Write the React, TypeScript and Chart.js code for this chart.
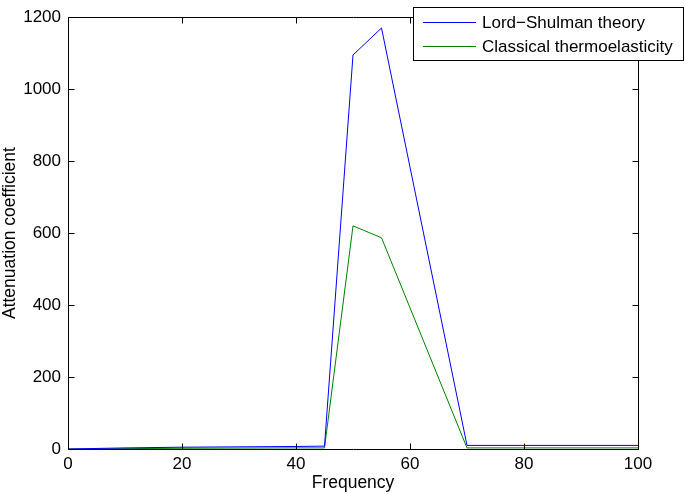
import React, { useEffect, useRef } from "react";
import { Chart, registerables } from "chart.js";

Chart.register(...registerables);

const frequency = [0, 10, 20, 30, 40, 45, 50, 55, 70, 80, 90, 100];
const lordShulman = [0, 3, 5, 6, 7, 8, 1095, 1170, 10, 10, 10, 10];
const classical = [0, 1, 2, 2.5, 3, 3, 620, 587, 3, 3, 3, 3];
const seriesNames = ["Lord\u2212Shulman theory", "Classical thermoelasticity"];
const seriesColors = ["#0000ff", "#008000"];
const xTicks = [0, 20, 40, 60, 80, 100];
const yTicks = [0, 200, 400, 600, 800, 1000, 1200];

const FONT = "Liberation Sans, Arial, Helvetica, sans-serif";

const frameAndLegend = {
  id: "frameAndLegend",
  afterDatasetsDraw(chart: any) {
    const { ctx, chartArea: a, scales } = chart;
    ctx.save();
    ctx.strokeStyle = "#000";
    ctx.lineWidth = 1;
    const L = Math.round(a.left) + 0.5;
    const R = Math.round(a.right) + 0.5;
    const T = Math.round(a.top) + 0.5;
    const B = Math.round(a.bottom) + 0.5;
    ctx.beginPath();
    ctx.rect(L, T, R - L, B - T);
    ctx.stroke();
    const tl = 6;
    ctx.beginPath();
    for (const v of xTicks) {
      const x = Math.round(scales.x.getPixelForValue(v)) + 0.5;
      ctx.moveTo(x, B);
      ctx.lineTo(x, B - tl);
      ctx.moveTo(x, T);
      ctx.lineTo(x, T + tl);
    }
    for (const v of yTicks) {
      const y = Math.round(scales.y.getPixelForValue(v)) + 0.5;
      ctx.moveTo(L, y);
      ctx.lineTo(L + tl, y);
      ctx.moveTo(R, y);
      ctx.lineTo(R - tl, y);
    }
    ctx.stroke();

    // legend
    const bx = 413.5, by = 7.5, bw = 270, bh = 53;
    ctx.fillStyle = "#fff";
    ctx.fillRect(bx, by, bw, bh);
    ctx.strokeStyle = "#000";
    ctx.strokeRect(bx, by, bw, bh);
    ctx.font = "17px " + FONT;
    ctx.textBaseline = "middle";
    ctx.textAlign = "left";
    seriesNames.forEach((name, i) => {
      const y = 22 + i * 24;
      ctx.strokeStyle = seriesColors[i];
      ctx.beginPath();
      ctx.moveTo(423, y + 0.5);
      ctx.lineTo(476, y + 0.5);
      ctx.stroke();
      ctx.fillStyle = "#000";
      ctx.fillText(name, 482, y + 1);
    });
    ctx.restore();
  },
};

export default function App() {
  const ref = useRef<HTMLCanvasElement>(null);
  useEffect(() => {
    const canvas = ref.current!;
    const chart = new Chart(canvas, {
      type: "line",
      data: {
        datasets: [
          {
            label: seriesNames[0],
            data: frequency.map((x, i) => ({ x, y: lordShulman[i] })),
            borderColor: seriesColors[0],
            borderWidth: 1,
            pointRadius: 0,
            tension: 0,
          },
          {
            label: seriesNames[1],
            data: frequency.map((x, i) => ({ x, y: classical[i] })),
            borderColor: seriesColors[1],
            borderWidth: 1,
            pointRadius: 0,
            tension: 0,
          },
        ],
      },
      options: {
        responsive: false,
        animation: false,
        layout: { padding: { top: 7, right: 47, left: 0, bottom: 0 } },
        plugins: { legend: { display: false }, tooltip: { enabled: false } },
        scales: {
          x: {
            type: "linear",
            min: 0,
            max: 100,
            afterBuildTicks: (s: any) => {
              s.ticks = xTicks.map((v) => ({ value: v }));
            },
            afterFit: (s: any) => {
              s.height = 45;
            },
            grid: { display: false, drawTicks: false },
            border: { display: false },
            ticks: {
              color: "#000",
              font: { family: FONT, size: 17 },
              padding: 5,
              maxRotation: 0,
              callback: (v: any) => String(v),
            },
            title: {
              display: true,
              text: "Frequency",
              color: "#000",
              font: { family: FONT, size: 17.5 },
              padding: 0,
            },
          },
          y: {
            type: "linear",
            min: 0,
            max: 1200,
            afterBuildTicks: (s: any) => {
              s.ticks = yTicks.map((v) => ({ value: v }));
            },
            afterFit: (s: any) => {
              s.width = 68;
            },
            grid: { display: false, drawTicks: false },
            border: { display: false },
            ticks: {
              color: "#000",
              font: { family: FONT, size: 17 },
              padding: 7,
              callback: (v: any) => String(v),
            },
            title: {
              display: true,
              text: "Attenuation coefficient",
              color: "#000",
              font: { family: FONT, size: 17.5 },
              padding: 0,
            },
          },
        },
      },
      plugins: [frameAndLegend],
    });
    return () => chart.destroy();
  }, []);
  return (
    <div style={{ position: "absolute", left: 0, top: 0, width: 685, height: 494, background: "#fff" }}>
      <canvas ref={ref} width={685} height={494} style={{ display: "block" }} />
    </div>
  );
}
